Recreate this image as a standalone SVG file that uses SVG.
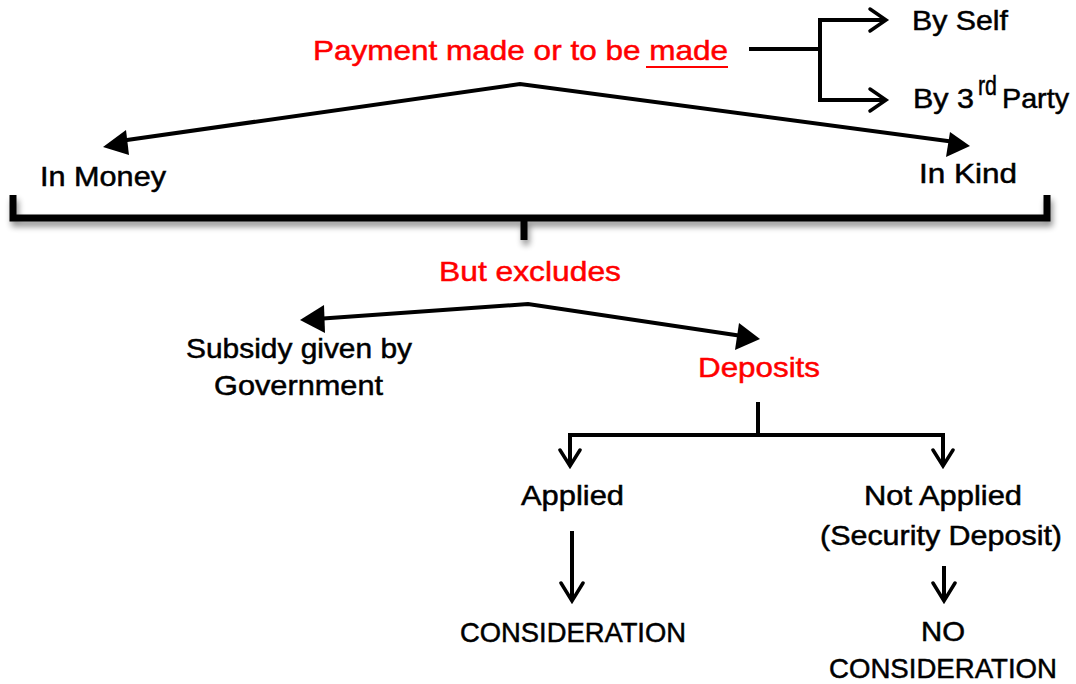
<svg xmlns="http://www.w3.org/2000/svg" width="1076" height="684" viewBox="0 0 1076 684">
  <style>
    .t { font-family: "Liberation Sans", Arial, sans-serif; font-size: 28px; fill: #000; stroke: #000; stroke-width: 0.5; }
    .red { fill: #ff0000; stroke: #ff0000; }
    .ln { fill: none; stroke: #000; stroke-width: 4; }
    .open { fill: none; stroke: #000; stroke-width: 3.5; stroke-linecap: round; stroke-linejoin: miter; }
    .brace { fill: none; stroke: #000; stroke-width: 7; filter: url(#shadow); }
  </style>
  <defs>
    <filter id="shadow" x="-5%" y="-50%" width="110%" height="250%">
      <feGaussianBlur in="SourceAlpha" stdDeviation="3"/>
      <feOffset dx="2" dy="5" result="b"/>
      <feComponentTransfer><feFuncA type="linear" slope="0.45"/></feComponentTransfer>
      <feMerge><feMergeNode/><feMergeNode in="SourceGraphic"/></feMerge>
    </filter>
  </defs>

  <rect width="1076" height="684" fill="#fff"/>

  <!-- connectors -->
  <g id="connectors">
    <!-- payer branch -->
    <path class="ln" d="M749,49 H820 M820,20 V100 M818,20 H884 M818,100 H884"/>
    <path class="open" d="M870,9 L886,20 L870,31 M870,89 L886,100 L870,111"/>
    <!-- money / kind split -->
    <path class="ln" d="M120,141 L520,84 L955,142"/>
    <path d="M103,147 L126,130 L129,155 Z" fill="#000"/>
    <path d="M970,146 L946,157 L950,132 Z" fill="#000"/>
    <!-- brace -->
    <path class="brace" d="M13,195 V218 H1047 V195 M524,218 V240"/>
    <!-- exclusions split -->
    <path class="ln" d="M316,319 L528,304 L742,336"/>
    <path d="M300,320 L324,305 L325,333 Z" fill="#000"/>
    <path d="M760,339 L735,350 L739,323 Z" fill="#000"/>
    <!-- deposits branch -->
    <path class="ln" d="M758,402 V436 M570,435 H945 M570,433 V465 M943,433 V465"/>
    <path class="open" d="M560,450 L570,466 L580,450 M933,450 L943,466 L953,450"/>
    <!-- outcomes -->
    <path class="ln" d="M572,531 V600 M944,566 V600"/>
    <path class="open" d="M561,583 L572,601 L583,583 M933,583 L944,601 L955,583"/>
  </g>

  <g id="payment">
    <text class="t red" x="313" y="60" textLength="415" lengthAdjust="spacingAndGlyphs">Payment made or to be made</text>
    <path d="M646,67 H728" stroke="#ff0000" stroke-width="2"/>
  </g>
  <g id="by-self"><text class="t" x="912" y="30" textLength="96" lengthAdjust="spacingAndGlyphs">By Self</text></g>
  <g id="by-third-party">
    <text class="t" x="913" y="108" textLength="61" lengthAdjust="spacingAndGlyphs">By 3</text>
    <text class="t" x="978" y="95" font-size="17" stroke-width="0.3" textLength="19" lengthAdjust="spacingAndGlyphs">rd</text>
    <text class="t" x="1002" y="108" textLength="67" lengthAdjust="spacingAndGlyphs">Party</text>
  </g>
  <g id="in-money"><text class="t" x="40" y="186" textLength="126" lengthAdjust="spacingAndGlyphs">In Money</text></g>
  <g id="in-kind"><text class="t" x="919" y="183" textLength="98" lengthAdjust="spacingAndGlyphs">In Kind</text></g>
  <g id="but-excludes"><text class="t red" x="439" y="281" textLength="182" lengthAdjust="spacingAndGlyphs">But excludes</text></g>
  <g id="subsidy">
    <text class="t" x="186" y="358" textLength="226" lengthAdjust="spacingAndGlyphs">Subsidy given by</text>
    <text class="t" x="214" y="395" textLength="169" lengthAdjust="spacingAndGlyphs">Government</text>
  </g>
  <g id="deposits"><text class="t red" x="698" y="377" textLength="122" lengthAdjust="spacingAndGlyphs">Deposits</text></g>
  <g id="applied"><text class="t" x="521" y="505" textLength="103" lengthAdjust="spacingAndGlyphs">Applied</text></g>
  <g id="not-applied">
    <text class="t" x="864" y="505" textLength="158" lengthAdjust="spacingAndGlyphs">Not Applied</text>
    <text class="t" x="820" y="545" textLength="242" lengthAdjust="spacingAndGlyphs">(Security Deposit)</text>
  </g>
  <g id="consideration"><text class="t" x="460" y="642" textLength="226" lengthAdjust="spacingAndGlyphs">CONSIDERATION</text></g>
  <g id="no-consideration">
    <text class="t" x="921" y="641" textLength="44" lengthAdjust="spacingAndGlyphs">NO</text>
    <text class="t" x="829" y="678" textLength="228" lengthAdjust="spacingAndGlyphs">CONSIDERATION</text>
  </g>
</svg>
